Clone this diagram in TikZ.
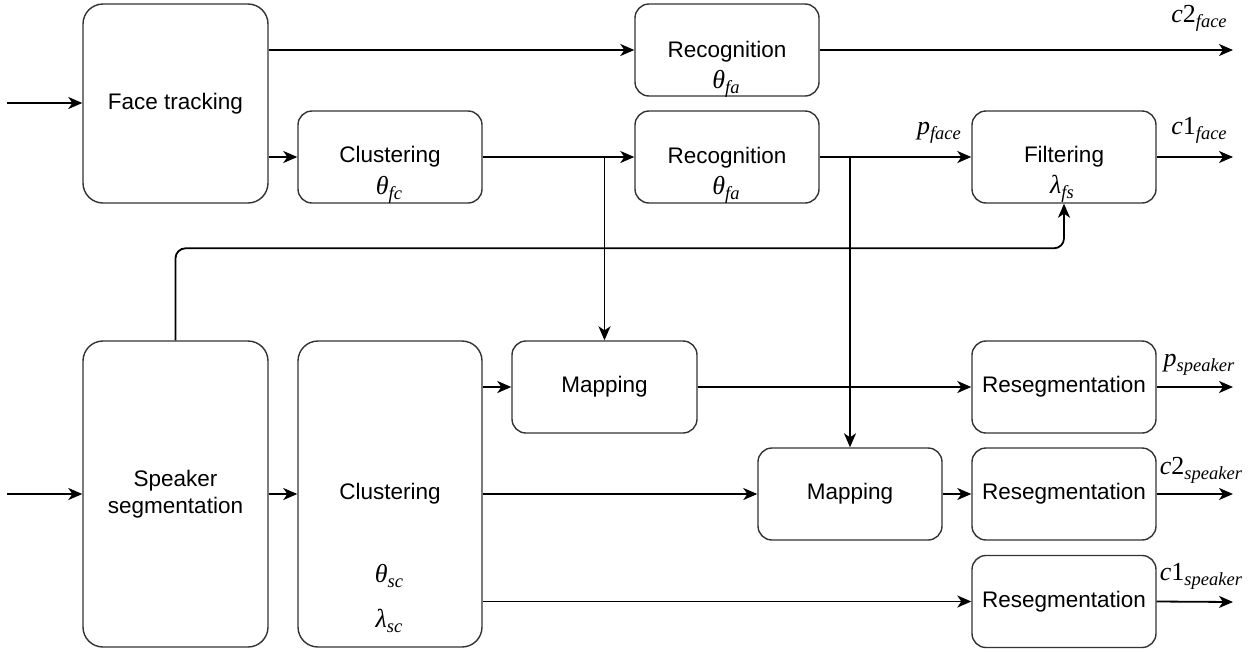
\documentclass[tikz,border=0pt]{standalone}
\usepackage{fontspec}
\setmainfont{Liberation Sans}
\newfontfamily\tms{Liberation Serif}
\newcommand\mlbl[3]{{\tms\fontsize{26}{30}\selectfont\textit{#1}#2\raisebox{-5pt}{\fontsize{18.5}{20}\selectfont\textit{#3}}}}
\usetikzlibrary{arrows.meta,calc}
\begin{document}
\begin{tikzpicture}[x=1pt,y=-1pt,
  box/.style={draw=black!80,line width=1.4pt,rounded corners=14pt,inner sep=0pt,
    font=\fontsize{22.5}{27}\selectfont,align=center},
  bigbox/.style={box,rounded corners=20pt},
  arr/.style={draw=black,line width=1.8pt,-{Stealth[length=14pt,width=12pt,inset=4pt]}},
  mlab/.style={inner sep=0pt}]
\useasboundingbox (0,0) rectangle (1258,651);
% boxes
\node[bigbox,minimum width=185pt,minimum height=199pt] (ft) at (175.5,103.5) {Face tracking};
\node[box,minimum width=184pt,minimum height=92pt] (rec1) at (727,50) {};
\node[box,minimum width=184pt,minimum height=92pt] (clf) at (390,157) {Clustering};
\node[box,minimum width=184pt,minimum height=92pt] (rec2) at (727,157) {};
\node[box,minimum width=184pt,minimum height=92pt] (fil) at (1064,157) {Filtering};
\node[bigbox,minimum width=185pt,minimum height=306pt] (ss) at (175.5,494) {Speaker\\segmentation};
\node[bigbox,minimum width=184pt,minimum height=306pt] (cls) at (390,494) {Clustering};
\node[box,minimum width=185pt,minimum height=92pt] (map1) at (604.5,387) {Mapping};
\node[box,minimum width=184pt,minimum height=92pt] (map2) at (850,494) {Mapping};
\node[box,minimum width=184pt,minimum height=92pt] (rs1) at (1064,387) {Resegmentation};
\node[box,minimum width=184pt,minimum height=92pt] (rs2) at (1064,494) {Resegmentation};
\node[box,minimum width=184pt,minimum height=92pt] (rs3) at (1064,601.5) {Resegmentation};
% box texts placed off-centre
\node[font=\fontsize{22.5}{27}\selectfont,inner sep=0pt] (r1t) at (727,52) {Recognition};
\node[font=\fontsize{22.5}{27}\selectfont,inner sep=0pt] (r2t) at (727,158) {Recognition};
% parameter labels
\node[mlab] (t1) at (726,84) {\mlbl{θ}{}{fa}};
\node[mlab] (t2) at (726,190) {\mlbl{θ}{}{fa}};
\node[mlab] (t3) at (389,190) {\mlbl{θ}{}{fc}};
\node[mlab] (t4) at (1062,189) {\mlbl{λ}{}{fs}};
\node[mlab] (t5) at (389,576) {\mlbl{θ}{}{sc}};
\node[mlab] (t6) at (389,621) {\mlbl{λ}{}{sc}};
% output labels
\node[mlab] (o1) at (1199,18) {\mlbl{c}{2}{face}};
\node[mlab] (o2) at (1199,130) {\mlbl{c}{1}{face}};
\node[mlab] (o3) at (939,133) {\mlbl{p}{}{face}};
\node[mlab] (o4) at (1199,365) {\mlbl{p}{}{speaker}};
\node[mlab] (o5) at (1201,470) {\mlbl{c}{2}{speaker}};
\node[mlab] (o6) at (1201,576) {\mlbl{c}{1}{speaker}};
% coordinates
\coordinate (inF) at (7,103);
\coordinate (inS) at (7,494);
\coordinate (e1) at (1233,50);
\coordinate (e2) at (1233,157);
\coordinate (e3) at (1233,387);
\coordinate (e4) at (1233,494);
\coordinate (e5) at (1233,602);
\coordinate (j1) at (604.5,157);
\coordinate (j2) at (850,157);
% connectors
\draw[arr] (inF) -- (ft.west |- inF);
\draw[arr] (ft.east |- rec1.west) -- (rec1.west);
\draw[arr] (ft.east |- clf.west) -- (clf.west);
\draw[arr] (clf.east) -- (rec2.west);
\draw[arr] (rec1.east) -- (e1);
\draw[arr] (rec2.east) -- (fil.west);
\draw[arr] (fil.east) -- (e2);
\draw[arr] (j1) -- (map1.north);
\draw[arr] (j2) -- (map2.north);
\draw[arr,rounded corners=10pt] (ss.north) -- ++(0,-92) -| (fil.south);
\draw[arr] (inS) -- (ss.west);
\draw[arr] (ss.east) -- (cls.west);
\draw[arr] (cls.east |- map1.west) -- (map1.west);
\draw[arr] (cls.east) -- (map2.west);
\draw[arr] (cls.east |- rs3.west) -- (rs3.west);
\draw[arr] (map1.east) -- (rs1.west);
\draw[arr] (map2.east) -- (rs2.west);
\draw[arr] (rs1.east) -- (e3);
\draw[arr] (rs2.east) -- (e4);
\draw[arr] (rs3.east) -- (e5);
\end{tikzpicture}
\end{document}
